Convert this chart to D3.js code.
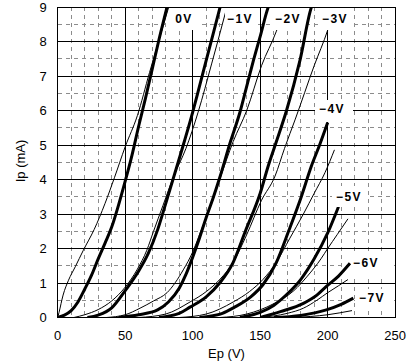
<!DOCTYPE html>
<html>
<head>
<meta charset="utf-8">
<script src="https://cdn.jsdelivr.net/npm/d3@7"></script>
<style>
  body { margin: 0; background: #fff; }
  svg { display: block; }
  .tick-label, .axis-title { font-family: "Liberation Sans Narrow", "Liberation Sans", sans-serif; font-size: 13px; fill: #000; }
  .curve-label { font-family: "Liberation Sans", sans-serif; font-size: 12px; font-weight: bold; letter-spacing: 1.5px; fill: #000; }
</style>
</head>
<body>
<svg width="407" height="363"></svg>
<script>
// plate voltage / plate current, one pair of curves per grid voltage
var gridLabels = ["0V", "\u22121V", "\u22122V", "\u22123V", "\u22124V", "\u22125V", "\u22126V", "\u22127V"];

// thick curves (measured)
var thick0 = [[0,0],[5,0.07],[10,0.2],[15,0.45],[20,0.82],[25,1.22],[30,1.7],[35,2.15],[40,2.62],[45,3.25],[50,3.95],[55,4.7],[60,5.55],[65,6.35],[70,7.2],[75,8.05],[81,9.0]];
var thick1 = [[22,0],[30,0.07],[40,0.28],[50,0.78],[60,1.35],[67,1.85],[74,2.54],[80,3.3],[90,4.6],[100,5.95],[105,6.7],[110,7.45],[115,8.2],[120,8.95],[121,9.1]];
var thick2 = [[45,0],[60,0.08],[74,0.22],[82,0.45],[90,0.85],[95,1.25],[100,1.75],[105,2.3],[110,2.9],[115,3.45],[120,4.05],[128,5.1],[135,5.95],[140,6.7],[145,7.45],[150,8.15],[156,9.0],[157,9.1]];
var thick3 = [[75,0],[90,0.12],[98,0.3],[110,0.6],[120,1.0],[130,1.6],[139,2.5],[150,3.6],[156,4.4],[162,5.1],[169.5,6.0],[179.5,7.46],[188,9.0],[189,9.1]];
var thick4 = [[105,0],[122,0.12],[131,0.3],[143,0.6],[152,0.95],[162,1.6],[171,2.5],[180,3.45],[188,4.4],[194,5.0],[200,5.65]];
var thick5 = [[135,0],[150,0.15],[160,0.35],[170,0.68],[180,1.1],[190,1.7],[200,2.45],[208,3.21]];
var thick6 = [[150,0],[165,0.17],[182,0.41],[192,0.65],[199,0.9],[208,1.2],[216.5,1.57]];
var thick7 = [[160,0],[180,0.06],[199,0.22],[210,0.38],[219,0.56]];

// thin curves (calculated)
var thin0 = [[0,0],[1,0.15],[4,0.65],[8,1.08],[13,1.47],[19,1.95],[27,2.55],[35,3.3],[42,4.05],[50,4.95],[59,5.85],[68,7.1],[77,8.3],[83,9.1]];
var thin1 = [[12,0],[20,0.08],[30,0.23],[40,0.48],[50,0.88],[59,1.4],[66,1.95],[71,2.5],[78,3.25],[86,4.1],[95,4.9],[104,5.95],[114,7.35],[124,8.8],[126,9.1]];
var thin2 = [[36,0],[50,0.08],[61,0.27],[71,0.48],[81,0.72],[93,1.38],[100,1.9],[106,2.5],[113,3.2],[120,4.0],[130,5.1],[140,6.0],[151,7.3],[162,8.3],[169,9.1]];
var thin3 = [[60,0],[80,0.1],[98,0.45],[110,0.75],[120,1.1],[130,1.6],[140,2.4],[151,3.4],[161,4.1],[168,4.9],[176,5.75],[190,7.3],[200,8.33],[206,9.1]];
var thin4 = [[90,0],[110,0.1],[130,0.45],[142,0.75],[152,1.1],[162,1.6],[172,2.3],[182,3.0],[190,3.6],[198,4.2],[205,4.86]];
var thin5 = [[120,0],[140,0.1],[160,0.4],[175,0.78],[185,1.2],[195,1.7],[200,2.0],[207,2.4],[215,2.86]];
var thin6 = [[150,0],[170,0.12],[182,0.27],[192,0.5],[200,0.72],[208,0.92],[215,1.1]];
var thin7 = [[175,0],[200,0.08],[218,0.2]];

var xTicks = [0, 50, 100, 150, 200, 250];
var yTicks = [0, 1, 2, 3, 4, 5, 6, 7, 8, 9];

var thickCurves = [thick0, thick1, thick2, thick3, thick4, thick5, thick6, thick7];
var thinCurves = [thin0, thin1, thin2, thin3, thin4, thin5, thin6, thin7];

// label boxes: [x0, y0, x1, y1] in px, text centre + baseline
var labelBoxes = [
    [169, 7, 199, 30, 184, 23],
    [225, 7, 255, 30, 240, 23],
    [272, 7, 303, 30, 288, 23],
    [320, 7, 350, 30, 335, 23],
    [315, 100, 353, 122, 332, 113],
    [332, 186, 367, 207, 349, 201],
    [351, 254, 393, 276, 366, 267],
    [355, 289, 393, 311, 372, 302]
];

var svg = d3.select("svg");
var plotL = 57.7, plotR = 395.2, plotT = 7, plotB = 317.5;

var x = d3.scaleLinear().domain([0, 250]).range([plotL, plotR]);
var y = d3.scaleLinear().domain([0, 9]).range([plotB, plotT]);

svg.append("defs").append("clipPath").attr("id", "plot")
    .append("rect")
    .attr("x", plotL).attr("y", plotT)
    .attr("width", plotR - plotL).attr("height", plotB - plotT);

// minor grid (dashed)
var minorG = svg.append("g")
    .attr("stroke", "#8c8c8c")
    .attr("stroke-dasharray", "4,4")
    .attr("shape-rendering", "crispEdges");

minorG.selectAll("line.vx")
    .data(d3.range(10, 250, 10).filter(function(v) { return v % 50 != 0; }))
    .enter().append("line")
    .attr("x1", function(d) { return x(d); })
    .attr("x2", function(d) { return x(d); })
    .attr("y1", plotT).attr("y2", plotB);

minorG.selectAll("line.hy")
    .data(d3.range(0.5, 9, 1))
    .enter().append("line")
    .attr("y1", function(d) { return y(d); })
    .attr("y2", function(d) { return y(d); })
    .attr("x1", plotL).attr("x2", plotR);

// major grid
var majorG = svg.append("g")
    .attr("stroke", "#000")
    .attr("shape-rendering", "crispEdges");

majorG.selectAll("line.vx")
    .data(xTicks)
    .enter().append("line")
    .attr("x1", function(d) { return x(d); })
    .attr("x2", function(d) { return x(d); })
    .attr("y1", plotT).attr("y2", plotB);

majorG.selectAll("line.hy")
    .data(yTicks)
    .enter().append("line")
    .attr("y1", function(d) { return y(d); })
    .attr("y2", function(d) { return y(d); })
    .attr("x1", plotL).attr("x2", plotR);

// curves
var line = d3.line()
    .x(function(d) { return x(d[0]); })
    .y(function(d) { return y(d[1]); })
    .curve(d3.curveMonotoneX);

var curvesG = svg.append("g").attr("clip-path", "url(#plot)").attr("fill", "none").attr("stroke", "#000");

curvesG.selectAll("path.thin")
    .data(thinCurves)
    .enter().append("path")
    .attr("class", "thin")
    .attr("stroke-width", 1)
    .attr("d", line);

curvesG.selectAll("path.thick")
    .data(thickCurves)
    .enter().append("path")
    .attr("class", "thick")
    .attr("stroke-width", 3)
    .attr("stroke-linejoin", "round")
    .attr("d", line);

// curve labels with white background
var labG = svg.append("g");
labG.selectAll("rect")
    .data(labelBoxes)
    .enter().append("rect")
    .attr("x", function(d) { return d[0]; })
    .attr("y", function(d) { return d[1]; })
    .attr("width", function(d) { return d[2] - d[0]; })
    .attr("height", function(d) { return d[3] - d[1]; })
    .attr("fill", "#fff");

labG.selectAll("text")
    .data(labelBoxes)
    .enter().append("text")
    .attr("class", "curve-label")
    .attr("x", function(d) { return d[4]; })
    .attr("y", function(d) { return d[5]; })
    .attr("text-anchor", "middle")
    .text(function(d, i) { return gridLabels[i]; });

// frame
svg.append("rect")
    .attr("x", plotL).attr("y", plotT)
    .attr("width", plotR - plotL).attr("height", plotB - plotT)
    .attr("fill", "none").attr("stroke", "#000")
    .attr("shape-rendering", "crispEdges");

// tick labels
svg.selectAll("text.xt")
    .data(xTicks)
    .enter().append("text")
    .attr("class", "tick-label")
    .attr("x", function(d) { return x(d); })
    .attr("y", 340)
    .attr("text-anchor", "middle")
    .text(function(d) { return d; });

svg.selectAll("text.yt")
    .data(yTicks)
    .enter().append("text")
    .attr("class", "tick-label")
    .attr("x", 43)
    .attr("y", function(d) { return y(d) + 4.5; })
    .attr("text-anchor", "middle")
    .text(function(d) { return d; });

svg.append("text")
    .attr("class", "axis-title")
    .attr("x", 226.5).attr("y", 358)
    .attr("text-anchor", "middle")
    .text("Ep (V)");

svg.append("text")
    .attr("class", "axis-title")
    .attr("transform", "translate(25,161) rotate(-90)")
    .attr("text-anchor", "middle")
    .text("Ip (mA)");
</script>
</body>
</html>
